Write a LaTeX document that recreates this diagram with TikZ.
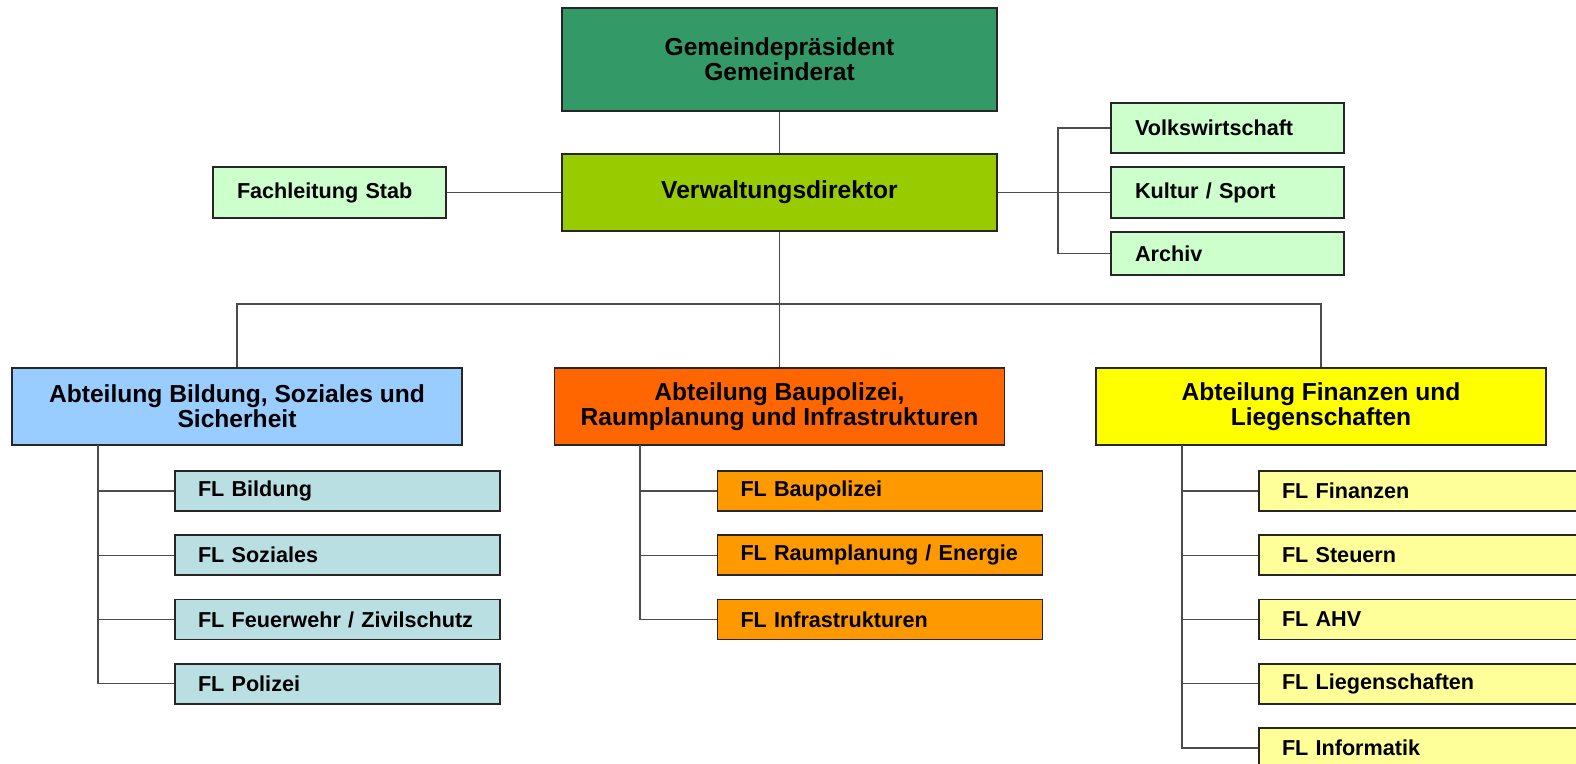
\documentclass[tikz,border=0pt]{standalone}
\usepackage{fontspec}
\setmainfont{Liberation Sans}
\usepackage{tikz}

\definecolor{rat}{HTML}{339966}
\definecolor{direktor}{HTML}{99CC00}
\definecolor{stab}{HTML}{CCFFCC}
\definecolor{bildung}{HTML}{99CCFF}
\definecolor{bildungfl}{HTML}{B9DFE3}
\definecolor{bau}{HTML}{FF6600}
\definecolor{baufl}{HTML}{FF9900}
\definecolor{finanz}{HTML}{FFFF00}
\definecolor{finanzfl}{HTML}{FFFF99}

\newcommand\BigBox{\fontsize{14}{14.4}\selectfont\bfseries}
\newcommand\SmallBox{\fontsize{12.3}{14}\selectfont\bfseries}

\begin{document}
\begin{tikzpicture}[line width=0.6pt]

  \tikzstyle{box}=[rectangle,draw=black!85,line width=1pt,inner sep=0pt]
  \tikzstyle{head}=[box,minimum width=8.7cm,align=center,font=\BigBox]
  \tikzstyle{abt}=[box,minimum width=9cm,minimum height=1.54cm,align=center,font=\BigBox]
  \tikzstyle{staff}=[box,text width=3.7cm,inner xsep=0.48cm,align=left,font=\SmallBox]
  \tikzstyle{leaf}=[box,text width=5.58cm,inner xsep=0.46cm,minimum height=0.8cm,
                    align=left,font=\SmallBox]
  \tikzstyle{link}=[draw=black!70,line width=0.6pt]
  \tikzstyle{vh}=[to path={|- (\tikztotarget) \tikztonodes}]
  \tikzstyle{hv}=[to path={-| (\tikztotarget) \tikztonodes}]

  \useasboundingbox (0,0) rectangle (31.52,-15.28);

  \node[head,fill=rat,minimum height=2.06cm]      (GP)  at (15.59,-1.19) {Gemeindepräsident \\ Gemeinderat};
  \node[head,fill=direktor,minimum height=1.54cm] (VD)  at (15.59,-3.85) {Verwaltungsdirektor};
  \node[staff,fill=stab,minimum height=1.02cm]    (FS)  at (6.59,-3.85)  {Fachleitung Stab};
  \node[staff,fill=stab,minimum height=1.00cm]    (VW)  at (24.55,-2.56) {Volkswirtschaft};
  \node[staff,fill=stab,minimum height=1.02cm]    (KS)  at (24.55,-3.85) {Kultur / Sport};
  \node[staff,fill=stab,minimum height=0.86cm]    (AR)  at (24.55,-5.07) {Archiv};

  \node[abt,fill=bildung] (ABS) at (4.74,-8.13)  {Abteilung Bildung, Soziales und \\ Sicherheit};
  \node[abt,fill=bau]     (ABR) at (15.59,-8.13) {Abteilung Baupolizei, \\ Raumplanung und Infrastrukturen};
  \node[abt,fill=finanz]  (AFL) at (26.42,-8.13) {Abteilung Finanzen und \\ Liegenschaften};

  \node[leaf,fill=bildungfl] (FLB) at (6.75,-9.82)   {FL Bildung};
  \node[leaf,fill=bildungfl] (FLS) at (6.75,-11.105) {FL Soziales};
  \node[leaf,fill=bildungfl] (FLF) at (6.75,-12.39)  {FL Feuerwehr / Zivilschutz};
  \node[leaf,fill=bildungfl] (FLP) at (6.75,-13.675) {FL Polizei};

  \node[leaf,fill=baufl] (FLBP) at (17.60,-9.82)   {FL Baupolizei};
  \node[leaf,fill=baufl] (FLRE) at (17.60,-11.105) {FL Raumplanung / Energie};
  \node[leaf,fill=baufl] (FLI)  at (17.60,-12.39)  {FL Infrastrukturen};

  \node[leaf,fill=finanzfl] (FLFi) at (28.43,-9.82)   {FL Finanzen};
  \node[leaf,fill=finanzfl] (FLSt) at (28.43,-11.105) {FL Steuern};
  \node[leaf,fill=finanzfl] (FLA)  at (28.43,-12.39)  {FL AHV};
  \node[leaf,fill=finanzfl] (FLL)  at (28.43,-13.675) {FL Liegenschaften};
  \node[leaf,fill=finanzfl] (FLIn) at (28.43,-14.96)  {FL Informatik};

  \coordinate (rb)  at (21.16,-3.85);
  \coordinate (bus) at (15.59,-6.08);
  \coordinate (sL)  at (1.96,-8.90);
  \coordinate (sM)  at (12.80,-8.90);
  \coordinate (sR)  at (23.64,-8.90);

\path[link]
(GP)  edge          (VD)
(FS)  edge          (VD)
(VD)  edge          (KS)
(rb)  edge [vh]     (VW)
(rb)  edge [vh]     (AR)
(VD)  edge          (ABR)
(bus) edge [hv]     (ABS)
(bus) edge [hv]     (AFL)
(sL)  edge [vh]     (FLB)
(sL)  edge [vh]     (FLS)
(sL)  edge [vh]     (FLF)
(sL)  edge [vh]     (FLP)
(sM)  edge [vh]     (FLBP)
(sM)  edge [vh]     (FLRE)
(sM)  edge [vh]     (FLI)
(sR)  edge [vh]     (FLFi)
(sR)  edge [vh]     (FLSt)
(sR)  edge [vh]     (FLA)
(sR)  edge [vh]     (FLL)
(sR)  edge [vh]     (FLIn)
;
\end{tikzpicture}
\end{document}
